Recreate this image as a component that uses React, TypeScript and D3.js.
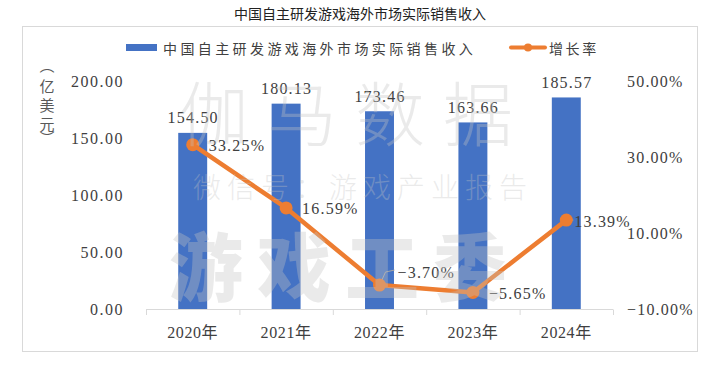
import React from "react";
import * as d3 from "d3";

const years = ["2020年", "2021年", "2022年", "2023年", "2024年"];
const revenue = [154.5, 180.13, 173.46, 163.66, 185.57];
const growth = [33.25, 16.59, -3.7, -5.65, 13.39];
const leftTicks = [0, 50, 100, 150, 200];
const rightTicks = [-10, 10, 30, 50];
const title = "中国自主研发游戏海外市场实际销售收入";
const seriesBar = "中国自主研发游戏海外市场实际销售收入";
const seriesLine = "增长率";
const unitChars = ["︵", "亿", "美", "元", "︶"];

const W = 726;
const H = 380;
const BLUE = "#4472C4";
const ORANGE = "#ED7D31";
const TXT = "#404040";
const NUM = "'Liberation Serif', 'Noto Sans CJK SC', serif";
const CJK = "'Noto Sans CJK SC', sans-serif";

export default function App() {
  const x = d3.scaleBand<string>().domain(years).range([146, 613]).padding(0);
  const yL = d3.scaleLinear().domain([0, 200]).range([309, 81]);
  const yR = d3.scaleLinear().domain([-10, 50]).range([309, 81]);
  const bw = x.bandwidth() * 0.31;
  const cx = (i: number) => (x(years[i]) as number) + x.bandwidth() / 2;

  const line = d3
    .line<number>()
    .x((_, i) => cx(i))
    .y((d) => yR(d));

  const gl = [
    { dx: 16, dy: 1 },
    { dx: 16, dy: 1 },
    { dx: 18, dy: -13 },
    { dx: 16, dy: 1 },
    { dx: 8, dy: 1 },
  ];

  return (
    <svg
      width={W}
      height={H}
      viewBox={`0 0 ${W} ${H}`}
      style={{ position: "absolute", left: 0, top: 0, background: "#fff" }}
    >
      <rect x={0} y={0} width={W} height={H} fill="#fff" />
      <text
        x={360}
        y={13}
        textAnchor="middle"
        dominantBaseline="central"
        fontFamily={CJK}
        fontSize={14}
        fill="#222"
      >
        {title}
      </text>
      <rect x={22.5} y={26.5} width={675} height={325} fill="#fff" stroke="#d9d9d9" strokeWidth={1} />

      {/* legend */}
      <rect x={126} y={44} width={31} height={7} fill={BLUE} />
      <text
        x={163}
        y={47.5}
        dominantBaseline="central"
        fontFamily={CJK}
        fontSize={14}
        letterSpacing={3.4}
        fill={TXT}
      >
        {seriesBar}
      </text>
      <line x1={511} x2={545} y1={47.5} y2={47.5} stroke={ORANGE} strokeWidth={4} strokeLinecap="round" />
      <circle cx={528} cy={47.5} r={4} fill={ORANGE} />
      <text
        x={549}
        y={47.5}
        dominantBaseline="central"
        fontFamily={CJK}
        fontSize={14}
        letterSpacing={2.6}
        fill={TXT}
      >
        {seriesLine}
      </text>

      {/* unit label */}
      {unitChars.map((c, i) => (
        <text
          key={i}
          x={47}
          y={66 + i * 19 - (i === 0 ? 2 : 0) - (i === 4 ? 5 : 0)}
          textAnchor="middle"
          dominantBaseline="central"
          fontFamily={CJK}
          fontSize={15}
          fill="#595959"
        >
          {c}
        </text>
      ))}

      {/* left axis labels */}
      {leftTicks.map((t) => (
        <text
          key={t}
          x={124}
          y={yL(t)}
          textAnchor="end"
          dominantBaseline="central"
          fontFamily={NUM}
          fontSize={16}
          letterSpacing={1.5}
          fill={TXT}
        >
          {t.toFixed(2)}
        </text>
      ))}

      {/* right axis labels */}
      {rightTicks.map((t) => (
        <text
          key={t}
          x={627}
          y={yR(t)}
          dominantBaseline="central"
          fontFamily={NUM}
          fontSize={16}
          letterSpacing={1.2}
          fill={TXT}
        >
          {(t < 0 ? "−" : "") + Math.abs(t).toFixed(2) + "%"}
        </text>
      ))}

      {/* bars */}
      {revenue.map((v, i) => (
        <rect key={i} x={cx(i) - bw / 2} y={yL(v)} width={bw} height={yL(0) - yL(v)} fill={BLUE} />
      ))}

      {/* x axis */}
      <line x1={146} x2={613} y1={309.5} y2={309.5} stroke="#d9d9d9" strokeWidth={1} />
      {[...years.map((y) => x(y) as number), 613].map((p, i) => (
        <line key={i} x1={p + 0.5} x2={p + 0.5} y1={309.5} y2={315} stroke="#d9d9d9" strokeWidth={1} />
      ))}
      {years.map((y, i) => (
        <text
          key={y}
          x={cx(i)}
          y={332}
          textAnchor="middle"
          dominantBaseline="central"
          fontFamily={NUM}
          fontSize={16}
          letterSpacing={0.6}
          fill={TXT}
        >
          {y}
        </text>
      ))}

      {/* bar value labels */}
      {revenue.map((v, i) => (
        <text
          key={i}
          x={cx(i) + 0.5}
          y={yL(v) - 15}
          textAnchor="middle"
          dominantBaseline="central"
          fontFamily={NUM}
          fontSize={16}
          letterSpacing={1.2}
          fill={TXT}
        >
          {v.toFixed(2)}
        </text>
      ))}

      {/* leader lines */}
      <polyline
        points={`${cx(2) + 1},${yR(growth[2]) - 2} ${cx(2) + 6},${yR(growth[2]) - 13} ${cx(2) + 15},${yR(growth[2]) - 15}`}
        fill="none"
        stroke="#a6a6a6"
        strokeWidth={1}
      />
      <line x1={cx(4) + 2} x2={cx(4) + 7} y1={yR(growth[4])} y2={yR(growth[4])} stroke="#a6a6a6" strokeWidth={1} />

      {/* growth line */}
      <path d={line(growth) || ""} fill="none" stroke={ORANGE} strokeWidth={4.5} strokeLinejoin="round" />
      {growth.map((g, i) => (
        <circle key={i} cx={cx(i)} cy={yR(g)} r={6.5} fill={ORANGE} />
      ))}
      {growth.map((g, i) => (
        <text
          key={i}
          x={cx(i) + gl[i].dx}
          y={yR(g) + gl[i].dy}
          dominantBaseline="central"
          fontFamily={NUM}
          fontSize={16}
          letterSpacing={1.2}
          fill={TXT}
        >
          {(g < 0 ? "−" : "") + Math.abs(g).toFixed(2) + "%"}
        </text>
      ))}

      {/* watermark */}
      <g fill="rgba(195,195,195,0.35)" fontFamily={CJK} style={{ pointerEvents: "none" }}>
        <text x={355} y={110} textAnchor="middle" dominantBaseline="central" fontSize={70} fontWeight={300} letterSpacing={18}>
          伽马数据
        </text>
        <text x={363} y={186} textAnchor="middle" dominantBaseline="central" fontSize={28} fontWeight={300} letterSpacing={6}>
          微信号：游戏产业报告
        </text>
        <text x={345} y={262} textAnchor="middle" dominantBaseline="central" fontSize={74} fontWeight={900} letterSpacing={14}>
          游戏工委
        </text>
      </g>
    </svg>
  );
}
